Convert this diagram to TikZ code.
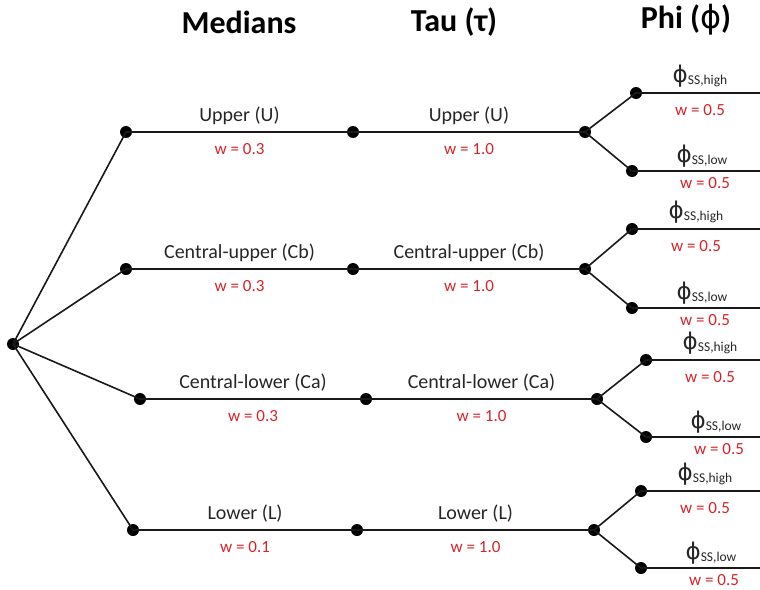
\documentclass[tikz,border=0pt]{standalone}
\usepackage{fontspec}
\setmainfont{Carlito}
\newfontfamily\greekf{DejaVu Sans}
\definecolor{wred}{RGB}{215,35,40}
\begin{document}
\begin{tikzpicture}[x=1pt,y=-1pt,
  dot/.style={circle,fill=black,inner sep=0pt,minimum size=12pt},
  br/.style={line width=1.6pt,black!90},
  lab/.style={font=\fontsize{20}{24}\selectfont,text=black!85,inner sep=0pt},
  wlab/.style={font=\fontsize{17}{20}\selectfont,text=wred,inner sep=0pt},
  head/.style={font=\fontsize{32}{36}\selectfont\bfseries,inner sep=0pt},
  philab/.style={inner sep=0pt,text=black!85}]
\useasboundingbox (0,0) rectangle (760,589);
\newcommand\phil[1]{{\greekf\fontsize{23}{26}\selectfont ϕ}{\fontsize{13.5}{14}\selectfont\raisebox{-2.5pt}{SS,#1}}}
% headers
\node[head] (h1) at (239,22) {Medians};
\node[head] (h2) at (454,22) {Tau (τ)};
\node[head] (h3) at (686,20) {Phi ({\greekf\mdseries ϕ})};
% root
\node[dot] (r) at (13,344) {};
\foreach \i/\ax/\bx/\cx/\y/\hx/\hy/\lx/\ly/\ml/\mw/\tl in {
  1/126/353/585/132/636/93/632/171/Upper (U)/0.3/Upper (U),
  2/126/353/585/269/632/229/632/308/Central-upper (Cb)/0.3/Central-upper (Cb),
  3/140/366/597/399/646/360/646/437/Central-lower (Ca)/0.3/Central-lower (Ca),
  4/133/357/594/530/641/491/641/568/Lower (L)/0.1/Lower (L)}{
  \node[dot] (a\i) at (\ax,\y) {};
  \node[dot] (b\i) at (\bx,\y) {};
  \node[dot] (c\i) at (\cx,\y) {};
  \node[dot] (h\i) at (\hx,\hy) {};
  \node[dot] (l\i) at (\lx,\ly) {};
  \coordinate (he\i) at (760,\hy);
  \coordinate (le\i) at (760,\ly);
  \draw[br] (r.center) -- (a\i.center) -- (b\i.center) -- (c\i.center);
  \draw[br] (c\i.center) -- (h\i.center) -- (he\i);
  \draw[br] (c\i.center) -- (l\i.center) -- (le\i);
  \node[lab] (ml\i) at ({(\ax+\bx)/2},\y-16) {\ml};
  \node[wlab] (mw\i) at ({(\ax+\bx)/2},\y+17) {w = \mw};
  \node[lab] (tl\i) at ({(\bx+\cx)/2},\y-16) {\tl};
  \node[wlab] (tw\i) at ({(\bx+\cx)/2},\y+17) {w = 1.0};
  \node[philab] (hl\i) at (\hx+64,\hy-17) {\phil{high}};
  \node[wlab] (hw\i) at (\hx+64,\hy+17) {w = 0.5};
  \node[philab] (ll\i) at (\lx+70,\ly-15) {\phil{low}};
  \node[wlab] (lw\i) at (\lx+73,\ly+12) {w = 0.5};
}
\end{tikzpicture}
\end{document}
